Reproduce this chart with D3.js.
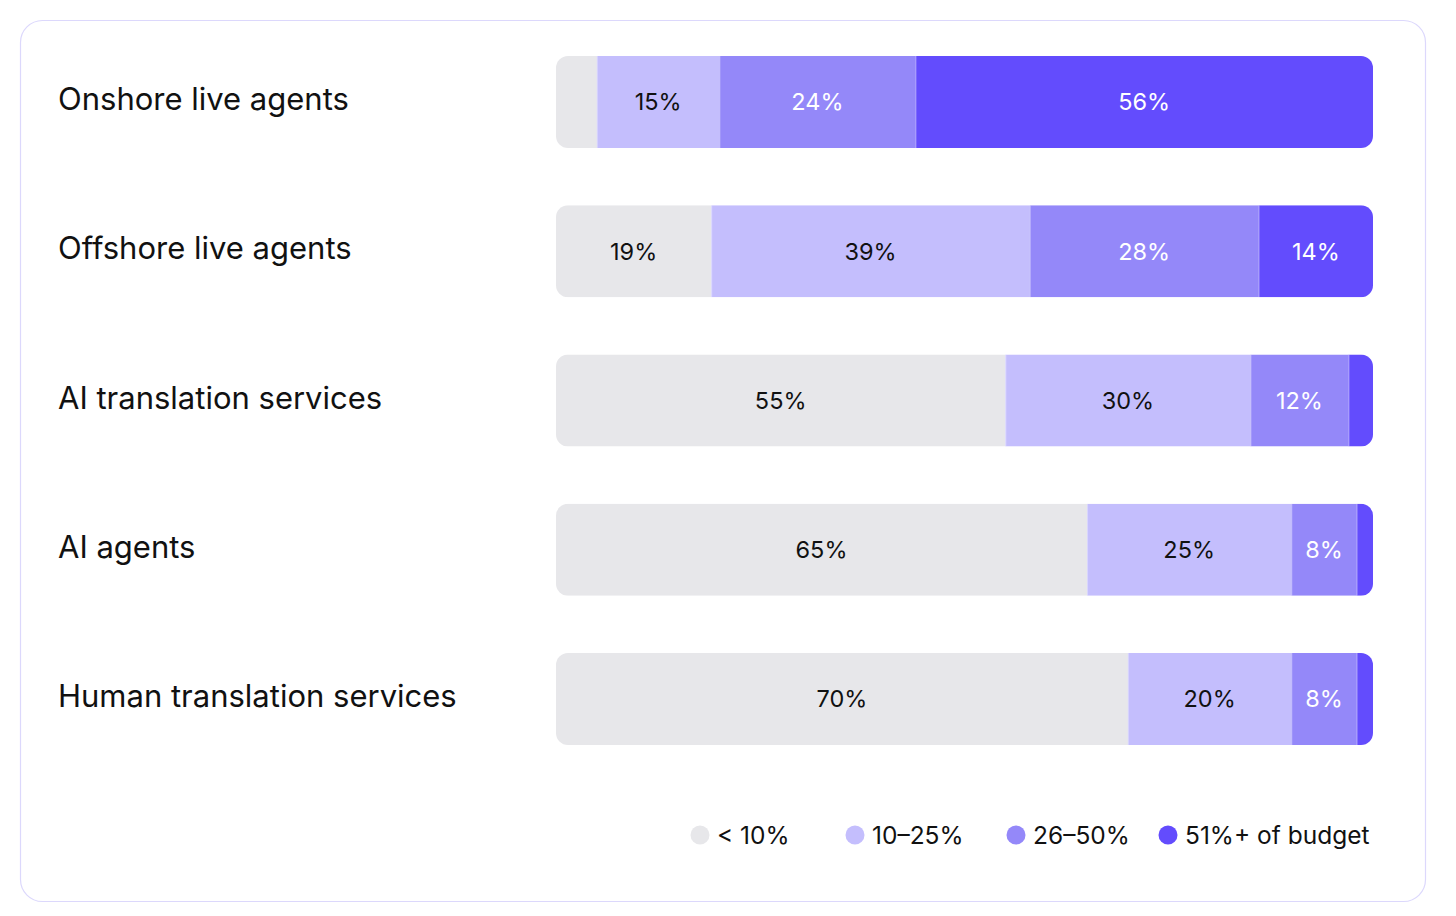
<!DOCTYPE html>
<html>
<head>
<meta charset="utf-8">
<script src="https://cdn.jsdelivr.net/npm/d3@7"></script>
<style>
  html, body { margin: 0; padding: 0; background: #fff; }
  svg { display: block; font-family: Inter, "Noto Sans", sans-serif; }
</style>
</head>
<body>
<svg id="chart" width="1456" height="916"></svg>
<script>
// data
var categories = ["Onshore live agents", "Offshore live agents", "AI translation services", "AI agents", "Human translation services"];
var bands = ["< 10%", "10–25%", "26–50%", "51%+ of budget"];
var under10 = [5, 19, 55, 65, 70];
var from10to25 = [15, 39, 30, 25, 20];
var from26to50 = [24, 28, 12, 8, 8];
var over51 = [56, 14, 3, 2, 2];
var colors = ["#e7e7ea", "#c4befd", "#9488f9", "#634cfd"];
var textColors = ["#111", "#111", "#fff", "#fff"];

var series = [under10, from10to25, from26to50, over51];

var svg = d3.select("#chart");

// card
svg.append("rect")
  .attr("x", 20.5).attr("y", 20.5)
  .attr("width", 1405).attr("height", 881)
  .attr("rx", 22)
  .attr("fill", "#fff")
  .attr("stroke", "#dcd8fc")
  .attr("stroke-width", 1.2);

var x = d3.scaleLinear().domain([0, 100]).range([556, 1373]);
var y = d3.scaleBand().domain(categories).range([56, 745]).paddingInner(0.383).paddingOuter(0);

// build stacked rows
var rows = categories.map(function(c, i) {
  var acc = 0;
  var segs = series.map(function(s, k) {
    var seg = { k: k, v: s[i], x0: acc, x1: acc + s[i], name: c };
    acc += s[i];
    return seg;
  });
  return { name: c, segs: segs };
});

var defs = svg.append("defs");
rows.forEach(function(r, i) {
  defs.append("clipPath").attr("id", "clip" + i)
    .append("rect")
    .attr("x", x(0)).attr("y", y(r.name))
    .attr("width", x(100) - x(0)).attr("height", y.bandwidth())
    .attr("rx", 12);
});

var row = svg.selectAll("g.row").data(rows).enter().append("g")
  .attr("class", "row");

// category labels
row.append("text")
  .attr("x", 58)
  .attr("y", function(d) { return y(d.name) + y.bandwidth() / 2 + 8; })
  .attr("font-size", 31)
  .attr("fill", "#111")
  .text(function(d) { return d.name; });

var bars = row.append("g")
  .attr("clip-path", function(d, i) { return "url(#clip" + i + ")"; });

bars.selectAll("rect").data(function(d) { return d.segs; })
  .enter().append("rect")
  .attr("x", function(d) { return x(d.x0); })
  .attr("y", function(d) { return y(d.name); })
  .attr("width", function(d) { return x(d.x1) - x(d.x0); })
  .attr("height", y.bandwidth())
  .attr("fill", function(d) { return colors[d.k]; });

// thin light seam between segments
bars.selectAll("line").data(function(d) { return d.segs.slice(1); })
  .enter().append("line")
  .attr("x1", function(d) { return x(d.x0) + 0.5; })
  .attr("x2", function(d) { return x(d.x0) + 0.5; })
  .attr("y1", function(d) { return y(d.name); })
  .attr("y2", function(d) { return y(d.name) + y.bandwidth(); })
  .attr("stroke", "#fff")
  .attr("stroke-opacity", 0.35);

// segment labels, only where there is room
row.selectAll("text.val").data(function(d) { return d.segs.filter(function(s) { return s.v >= 8; }); })
  .enter().append("text")
  .attr("class", "val")
  .attr("x", function(d) { return (x(d.x0) + x(d.x1)) / 2; })
  .attr("y", function(d) { return y(d.name) + y.bandwidth() / 2; })
  .attr("dy", "0.36em")
  .attr("text-anchor", "middle")
  .attr("font-size", 23.5)
  .attr("fill", function(d) { return textColors[d.k]; })
  .text(function(d) { return d.v + "%"; });

// legend
var legendX = [700, 855, 1016, 1168];
var legend = svg.selectAll("g.legend").data(bands).enter().append("g")
  .attr("class", "legend")
  .attr("transform", function(d, i) { return "translate(" + legendX[i] + ",835)"; });

legend.append("circle")
  .attr("r", 9.5)
  .attr("fill", function(d, i) { return colors[i]; });

legend.append("text")
  .attr("x", 17)
  .attr("dy", "0.36em")
  .attr("font-size", 24.5)
  .attr("fill", "#111")
  .text(function(d) { return d; });
</script>
</body>
</html>
